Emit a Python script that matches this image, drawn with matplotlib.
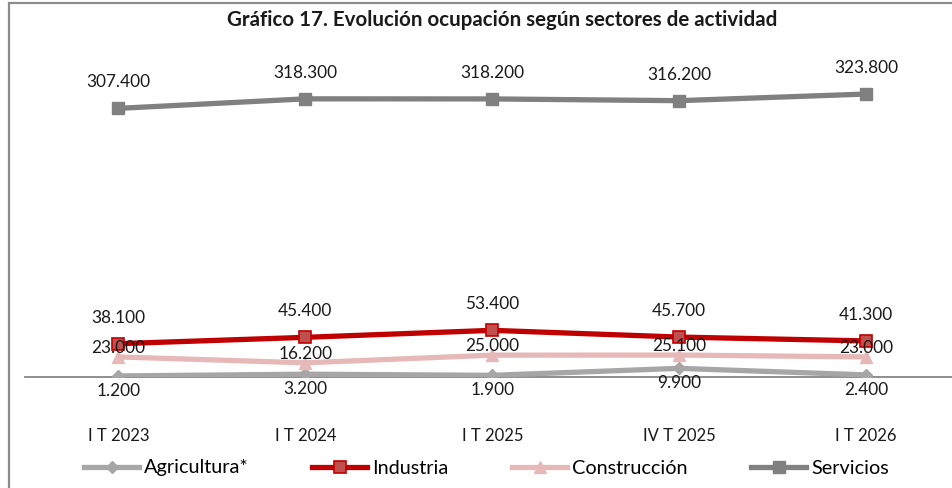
import matplotlib
matplotlib.use("Agg")
import matplotlib.pyplot as plt
from matplotlib.patches import Rectangle

plt.rcParams['font.family'] = ['Lato', 'DejaVu Sans']

categories = ["I T 2023", "I T 2024", "I T 2025", "IV T 2025", "I T 2026"]
agricultura = [1.2, 3.2, 1.9, 9.9, 2.4]
industria = [38.1, 45.4, 53.4, 45.7, 41.3]
construccion = [23.0, 16.2, 25.0, 25.1, 23.0]
servicios = [307.4, 318.3, 318.2, 316.2, 323.8]
title = "Gráfico 17. Evolución ocupación según sectores de actividad"

W, H = 952, 488
fig = plt.figure(figsize=(W / 100, H / 100), dpi=100)
ax = fig.add_axes([25 / W, (H - 377) / H, 934.5 / W, 314.6 / H])

x = list(range(len(categories)))

series = [
    ("Agricultura*", agricultura, dict(color="#A6A6A6", marker="D", markersize=6,
                                       markerfacecolor="#A6A6A6", markeredgecolor="#A6A6A6"), 15),
    ("Industria", industria, dict(color="#C00000", marker="s", markersize=9,
                                  markerfacecolor="#C0504D", markeredgecolor="#C00000", markeredgewidth=1.2), -26),
    ("Construcción", construccion, dict(color="#E6B9B8", marker="^", markersize=9,
                                        markerfacecolor="#E6B9B8", markeredgecolor="#E6B9B8"), -9),
    ("Servicios", servicios, dict(color="#808080", marker="s", markersize=9,
                                  markerfacecolor="#808080", markeredgecolor="#808080"), -26),
]

def fmt(v):
    s = f"{v * 1000:,.0f}"
    return s.replace(",", ".")

handles = []
for name, vals, style, off in series:
    h, = ax.plot(x, vals, linewidth=3.8, label=name, zorder=3, **style)
    handles.append(h)
    for xi, v in zip(x, vals):
        ax.annotate(fmt(v), (xi, v), xytext=(0, -off * 0.72), textcoords="offset points",
                    ha="center", va="center", fontsize=12.4, color="#1a1a1a", zorder=5)

ax.set_xlim(-0.5, 4.5)
ax.set_ylim(0, 360)
for s in ["top", "right", "left"]:
    ax.spines[s].set_visible(False)
ax.spines["bottom"].set_color("#868686")
ax.spines["bottom"].set_linewidth(1.3)
ax.set_yticks([])
ax.set_xticks(x)
ax.set_xticklabels(categories, fontsize=12, color="#1a1a1a")
ax.tick_params(axis="x", length=0, pad=36.5)

fig.text(502 / W, 1 - 20 / H, title, ha="center", va="center", fontsize=14.8,
         fontweight="bold", color="#1a1a1a")

leg = fig.legend(handles=handles, loc="center left", bbox_to_anchor=(84 / W, 1 - 468 / H),
                 ncol=4, frameon=False, fontsize=14.3, handlelength=2.77,
                 handletextpad=0.25, columnspacing=3.2, numpoints=1, borderaxespad=0,
                 borderpad=0)

fig.patches.append(Rectangle((9 / W, -0.1), 1.2, 1.1 - 3 / H, transform=fig.transFigure,
                             fill=False, edgecolor="#8c8c8c", linewidth=1.6))

fig.savefig("out.png", dpi=100)
